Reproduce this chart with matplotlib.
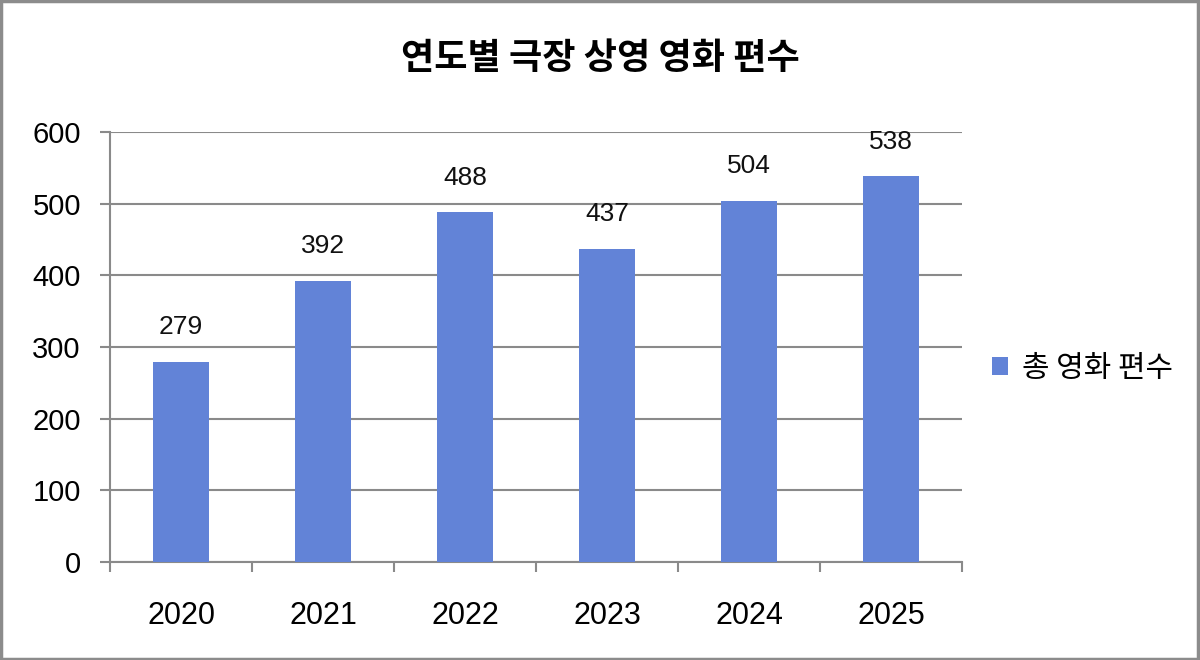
import matplotlib
matplotlib.use("Agg")
import matplotlib.pyplot as plt
import numpy as np

plt.rcParams['font.family'] = ['Liberation Sans', 'Noto Sans CJK KR', 'DejaVu Sans']

# data
years = ['2020', '2021', '2022', '2023', '2024', '2025']
movies = [279, 392, 488, 437, 504, 538]
series_name = '총 영화 편수'
title = '연도별 극장 상영 영화 편수'

grid_c = '#8a8a8a'
bar_c = '#6283d7'

fig = plt.figure(figsize=(12, 6.6), dpi=100)
ax = fig.add_axes([0.0917, 0.1485, 0.71, 0.6515])

x = np.arange(len(years))
bars = ax.bar(x, movies, width=0.4, color=bar_c, label=series_name, zorder=3)

for xi, v in zip(x, movies):
    ax.annotate(str(v), (xi, v), xytext=(0, 25), textcoords='offset points',
                ha='center', va='center', fontsize=19, color='#111111')

ax.set_xlim(-0.5, len(years) - 0.5)
ax.set_ylim(0, 600)
ax.set_yticks(range(0, 601, 100))
ax.yaxis.grid(True, color=grid_c, linewidth=1.5, zorder=0)

ax.set_xticks(x)
ax.set_xticklabels(years, fontsize=22)
ax.set_xticks(np.arange(-0.5, len(years)), minor=True)
ax.tick_params(axis='x', which='major', length=0, pad=28)
ax.tick_params(axis='x', which='minor', length=7, width=1.5, color=grid_c)
ax.tick_params(axis='y', length=7, width=1.5, color=grid_c, labelsize=21, pad=14)

for s in ['top', 'right']:
    ax.spines[s].set_visible(False)
for s in ['left', 'bottom']:
    ax.spines[s].set_color(grid_c)
    ax.spines[s].set_linewidth(1.5)

fig.suptitle(title, x=0.5, y=0.94, fontsize=26, fontweight='bold',
             family=['Noto Sans CJK KR', 'DejaVu Sans'])

fig.legend(handles=[bars], labels=[series_name], loc='center left',
           bbox_to_anchor=(0.804, 0.442), frameon=False,
           handlelength=0.55, handleheight=0.55, handletextpad=0.45,
           prop={'family': ['Noto Sans CJK KR', 'DejaVu Sans'], 'size': 21.5})

# outer gray border
fig.patches.append(plt.Rectangle((0.001, 0.002), 0.997, 0.996, transform=fig.transFigure,
                                 fill=False, edgecolor='#8c8c8c', linewidth=2.5))

fig.savefig('out.png', dpi=100)
